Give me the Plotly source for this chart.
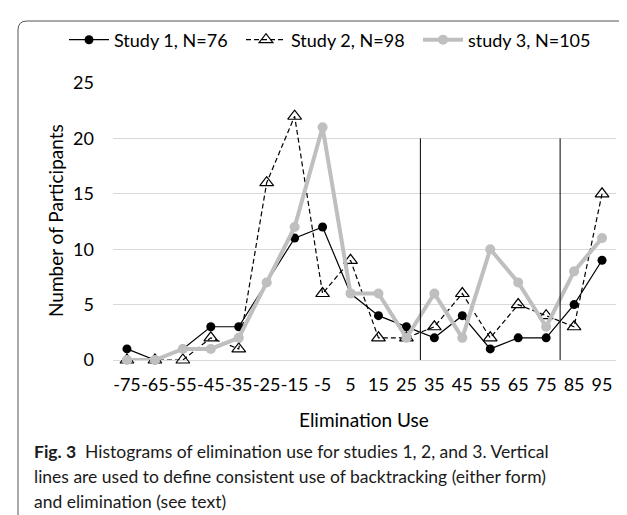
import plotly.graph_objects as go

categories = ["-75", "-65", "-55", "-45", "-35", "-25", "-15", "-5", "5", "15",
              "25", "35", "45", "55", "65", "75", "85", "95"]
study1 = [1, 0, 1, 3, 3, 7, 11, 12, 6, 4, 3, 2, 4, 1, 2, 2, 5, 9]
study2 = [0, 0, 0, 2, 1, 16, 22, 6, 9, 2, 2, 3, 6, 2, 5, 4, 3, 15]
study3 = [0, 0, 1, 1, 2, 7, 12, 21, 6, 6, 2, 6, 2, 10, 7, 3, 8, 11]
series_names = ["Study 1, N=76", "Study 2, N=98", "study 3, N=105"]
y_ticks = [0, 5, 10, 15, 20, 25]
# vertical divider lines sit between these category pairs
divider_after = ["25", "75"]
divider_top = 20

W, H = 627, 515
L, R, T, B = 105, 19, 75, 163
PW, PH = W - L - R, H - T - B


def px(p):
    return (p - L) / PW


def py(p):
    return (H - B - p) / PH


FONT = "Lato"
xs = list(range(len(categories)))

fig = go.Figure()
fig.add_trace(go.Scatter(
    x=xs, y=study1, name=series_names[0], mode="lines+markers",
    line=dict(color="black", width=1.2),
    marker=dict(symbol="circle", size=9, color="black"),
    cliponaxis=False))
fig.add_trace(go.Scatter(
    x=xs, y=study2, name=series_names[1], mode="lines+markers",
    line=dict(color="black", width=1.2, dash="5px,3px"),
    marker=dict(symbol="triangle-up-open", size=12, color="black",
                line=dict(width=1.2, color="black")),
    cliponaxis=False))
fig.add_trace(go.Scatter(
    x=xs, y=study3, name=series_names[2], mode="lines+markers",
    line=dict(color="#BFBFBF", width=4),
    marker=dict(symbol="circle", size=10, color="#BFBFBF"),
    cliponaxis=False))

shapes = []
for c in divider_after:
    xv = categories.index(c) + 0.5
    shapes.append(dict(type="line", xref="x", yref="y", x0=xv, x1=xv,
                       y0=0, y1=divider_top, line=dict(color="black", width=1)))

# rounded frame around the figure
x0, x1, y0, y1, r = 10, 624, 13, 520, 9
path = (f"M {px(x0)},{py(y0 + r)} Q {px(x0)},{py(y0)} {px(x0 + r)},{py(y0)} "
        f"L {px(x1 - r)},{py(y0)} Q {px(x1)},{py(y0)} {px(x1)},{py(y0 + r)} "
        f"L {px(x1)},{py(y1 - r)} Q {px(x1)},{py(y1)} {px(x1 - r)},{py(y1)} "
        f"L {px(x0 + r)},{py(y1)} Q {px(x0)},{py(y1)} {px(x0)},{py(y1 - r)} Z")
shapes.append(dict(type="path", xref="paper", yref="paper", path=path,
                   line=dict(color="#555555", width=1)))

annotations = [
    dict(text="Number of Participants", xref="paper", yref="paper",
         x=px(47), y=py(213), textangle=-90, showarrow=False,
         font=dict(family=FONT, size=19, color="black"),
         xanchor="center", yanchor="middle"),
    dict(text="Elimination Use", xref="paper", yref="paper",
         x=px(356), y=py(411), showarrow=False,
         font=dict(family=FONT, size=19, color="black"),
         xanchor="center", yanchor="middle"),
]
caption = [
    "<b>Fig. 3</b>  Histograms of elimination use for studies 1, 2, and 3. Vertical",
    "lines are used to define consistent use of backtracking (either form)",
    "and elimination (see text)",
]
for i, line in enumerate(caption):
    annotations.append(dict(text=line, xref="paper", yref="paper",
                            x=px(24), y=py(443 + 25 * i), showarrow=False,
                            xanchor="left", yanchor="middle", align="left",
                            font=dict(family=FONT, size=17.5, color="#1a1a1a")))

fig.update_layout(
    width=W, height=H,
    margin=dict(l=L, r=R, t=T, b=B, pad=0),
    paper_bgcolor="white", plot_bgcolor="white",
    font=dict(family=FONT, size=18, color="black"),
    showlegend=True,
    legend=dict(orientation="h", x=px(56), y=py(32), xanchor="left",
                yanchor="middle", font=dict(family=FONT, size=18, color="black"),
                bgcolor="rgba(0,0,0,0)", traceorder="normal",
                entrywidth=122, itemwidth=40),
    xaxis=dict(range=[-0.5, len(categories) - 0.5], tickmode="array",
               tickvals=xs, ticktext=categories, showgrid=False,
               zeroline=False, showline=False, ticks="", tickangle=0,
               ticklabelstandoff=12,
               tickfont=dict(family=FONT, size=18, color="black")),
    yaxis=dict(range=[0, 25], tickmode="array", tickvals=y_ticks,
               showgrid=True, gridcolor="#D9D9D9", gridwidth=1,
               zeroline=True, zerolinecolor="#D9D9D9", zerolinewidth=1,
               showline=False, ticks="", ticklabelstandoff=18,
               tickfont=dict(family=FONT, size=18, color="black")),
    shapes=shapes,
    annotations=annotations,
)

fig.write_html("out.html", config={"displayModeBar": False})
